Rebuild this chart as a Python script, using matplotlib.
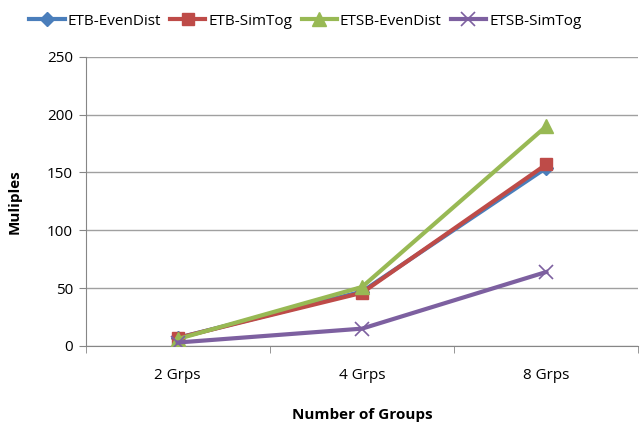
import matplotlib.pyplot as plt
from matplotlib.ticker import FixedLocator

categories = ['2 Grps', '4 Grps', '8 Grps']
etb_even = [7, 47, 154]
etb_simtog = [7, 46, 157]
etsb_even = [6, 51, 190]
etsb_simtog = [3, 15, 64]

plt.rcParams['font.family'] = ['Open Sans', 'DejaVu Sans']

fig = plt.figure(figsize=(6.43, 4.24), dpi=100)
ax = fig.add_axes([0.133, 0.184, 0.86, 0.682])

x = range(len(categories))
ax.plot(x, etb_even, color='#4A7EBB', lw=3, marker='D', ms=7, label='ETB-EvenDist', zorder=3)
ax.plot(x, etb_simtog, color='#BE4B48', lw=3, marker='s', ms=9, label='ETB-SimTog', zorder=4)
ax.plot(x, etsb_even, color='#98B954', lw=3, marker='^', ms=10, label='ETSB-EvenDist', zorder=5)
ax.plot(x, etsb_simtog, color='#7D60A0', lw=3, marker='x', ms=10, mew=1.2, label='ETSB-SimTog', zorder=6)

ax.set_xlim(-0.5, 2.5)
ax.set_ylim(0, 250)
ax.set_yticks(range(0, 251, 50))
ax.set_xticks(list(x))
ax.set_xticklabels(categories)
ax.xaxis.set_minor_locator(FixedLocator([-0.5, 0.5, 1.5, 2.5]))
ax.tick_params(axis='x', which='major', length=0, pad=16, labelsize=11)
ax.tick_params(axis='x', which='minor', length=5, color='#868686', direction='out')
ax.tick_params(axis='y', length=5, color='#868686', labelsize=11, pad=4)
ax.grid(axis='y', color='#A0A0A0', lw=1)
ax.set_axisbelow(True)
for s in ['top', 'right']:
    ax.spines[s].set_visible(False)
for s in ['left', 'bottom']:
    ax.spines[s].set_color('#868686')

ax.set_xlabel('Number of Groups', fontweight='bold', fontsize=11, labelpad=18)
ax.set_ylabel('Muliples', fontweight='bold', fontsize=11, labelpad=18)

fig.legend(loc='upper center', bbox_to_anchor=(0.475, 1.0), ncol=4, frameon=False,
           fontsize=11, handlelength=2.3, columnspacing=0.6, handletextpad=0.2)

fig.savefig('out.png', dpi=100, facecolor='white')
